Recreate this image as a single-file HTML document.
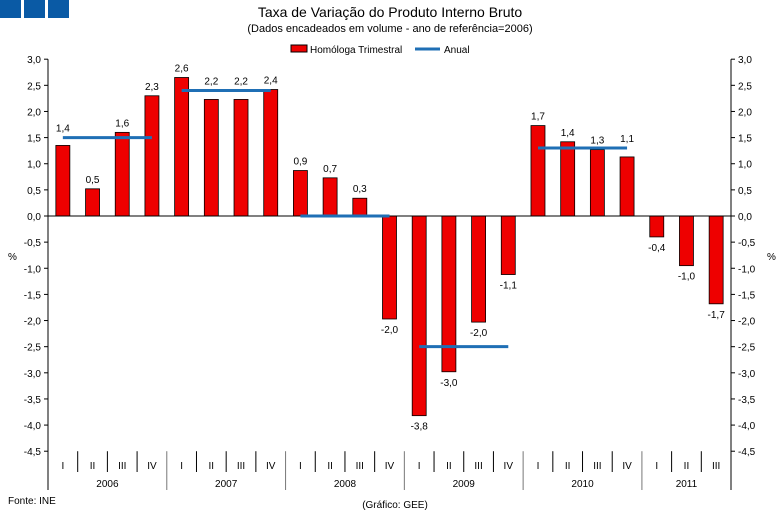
<!DOCTYPE html>
<html><head><meta charset="utf-8"><style>
body{margin:0;background:#fff;width:783px;height:512px;overflow:hidden;font-family:"Liberation Sans",sans-serif}
svg text{font-family:"Liberation Sans",sans-serif}
</style></head><body>
<svg id="c" width="783" height="512" xmlns="http://www.w3.org/2000/svg">
<rect x="0" y="0" width="21" height="18" fill="#0a5aa5"/>
<rect x="24" y="0" width="21" height="18" fill="#0a5aa5"/>
<rect x="48" y="0" width="21" height="18" fill="#0a5aa5"/>
<text x="390" y="17" font-size="14" text-anchor="middle">Taxa de Variação do Produto Interno Bruto</text>
<text x="390" y="32" font-size="11" text-anchor="middle">(Dados encadeados em volume - ano de referência=2006)</text>
<g>
<rect x="291" y="45" width="16" height="7" fill="#e00" stroke="#000"/>
<text x="310" y="53" font-size="10">Homóloga Trimestral</text>
<line x1="415" y1="49" x2="440" y2="49" stroke="#1f6fb5" stroke-width="3"/>
<text x="444" y="53" font-size="10">Anual</text>
</g>
<text x="8" y="260" font-size="10">%</text>
<text x="767" y="260" font-size="10">%</text>
<text x="8" y="504" font-size="10">Fonte: INE</text>
<text x="395" y="508" font-size="10" text-anchor="middle">(Gráfico: GEE)</text>
<g id="g"></g>
</svg>
<script>
const quarters=["I","II","III","IV","I","II","III","IV","I","II","III","IV","I","II","III","IV","I","II","III","IV","I","II","III"];
const years=["2006","2007","2008","2009","2010","2011"];
const quarterly=[1.35,0.52,1.6,2.3,2.65,2.23,2.23,2.42,0.87,0.73,0.34,-1.97,-3.82,-2.98,-2.03,-1.12,1.73,1.42,1.27,1.13,-0.4,-0.95,-1.68];
const labels=["1,4","0,5","1,6","2,3","2,6","2,2","2,2","2,4","0,9","0,7","0,3","-2,0","-3,8","-3,0","-2,0","-1,1","1,7","1,4","1,3","1,1","-0,4","-1,0","-1,7"];
const annual=[1.5,2.4,0.0,-2.5,1.3];
const yTicks=[3,2.5,2,1.5,1,0.5,0,-0.5,-1,-1.5,-2,-2.5,-3,-3.5,-4,-4.5];
const NS="http://www.w3.org/2000/svg",g=document.getElementById('g');
const X0=48,X1=731,step=(X1-X0)/quarters.length;
const y=v=>216-v*52.27;
const xc=i=>X0+step*(i+0.5);
function el(t,a){const e=document.createElementNS(NS,t);for(const k in a)e.setAttribute(k,a[k]);g.appendChild(e);return e;}
let e;
e=el('line',{x1:X0,y1:y(3),x2:X0,y2:490,stroke:'#000'});


e=el('line',{x1:X1,y1:y(3),x2:X1,y2:490,stroke:'#000'});


yTicks.forEach(v=>{const s=v.toFixed(1).replace('.',',');
 e=el('line',{x1:X0-4,y1:y(v),x2:X0,y2:y(v),stroke:'#000'});
 
 
 e=el('line',{x1:X1,y1:y(v),x2:X1+4,y2:y(v),stroke:'#000'});
 
 
 e=el('text',{x:X0-7,y:y(v)+4,'font-size':10,'text-anchor':'end'});e.textContent=s;
 
 
 e=el('text',{x:X1+7,y:y(v)+4,'font-size':10});e.textContent=s;
 
 
});
quarterly.forEach((v,i)=>{const top=Math.min(y(v),y(0)),h=Math.abs(y(v)-y(0));
 e=el('rect',{x:xc(i)-7,y:top,width:14,height:h,fill:'#e00',stroke:'#000','stroke-width':0.8});
 
 
 let ly=v>=0?y(v)-6:y(v)+14;
 const a=annual[Math.floor(i/4)];
 if(v>=0&&a!==undefined){const ay=y(a);if(ly>ay-3&&ly<ay+12)ly=ay-6;}
 e=el('text',{x:xc(i),y:ly,'font-size':10,'text-anchor':'middle'});e.textContent=labels[i];
 
 
});
e=el('line',{x1:X0,y1:y(0),x2:X1,y2:y(0),stroke:'#000'});


annual.forEach((v,k)=>{
 e=el('line',{x1:xc(k*4),y1:y(v),x2:xc(k*4+3),y2:y(v),stroke:'#1f6fb5','stroke-width':3});
 
 
});
quarters.forEach((q,i)=>{
 e=el('text',{x:xc(i),y:469,'font-size':10,'text-anchor':'middle'});e.textContent=q;
 
 
 if(i>0){const yr=i%4===0;
 e=el('line',{x1:X0+step*i,y1:y(-4.5),x2:X0+step*i,y2:yr?490:472,stroke:yr?'#777':'#000'});
 
 }
});
years.forEach((yr,k)=>{const n=Math.min(4,quarters.length-k*4);
 e=el('text',{x:X0+step*(k*4+n/2),y:487,'font-size':10,'text-anchor':'middle'});e.textContent=yr;
 
 
});
</script>
</body></html>
